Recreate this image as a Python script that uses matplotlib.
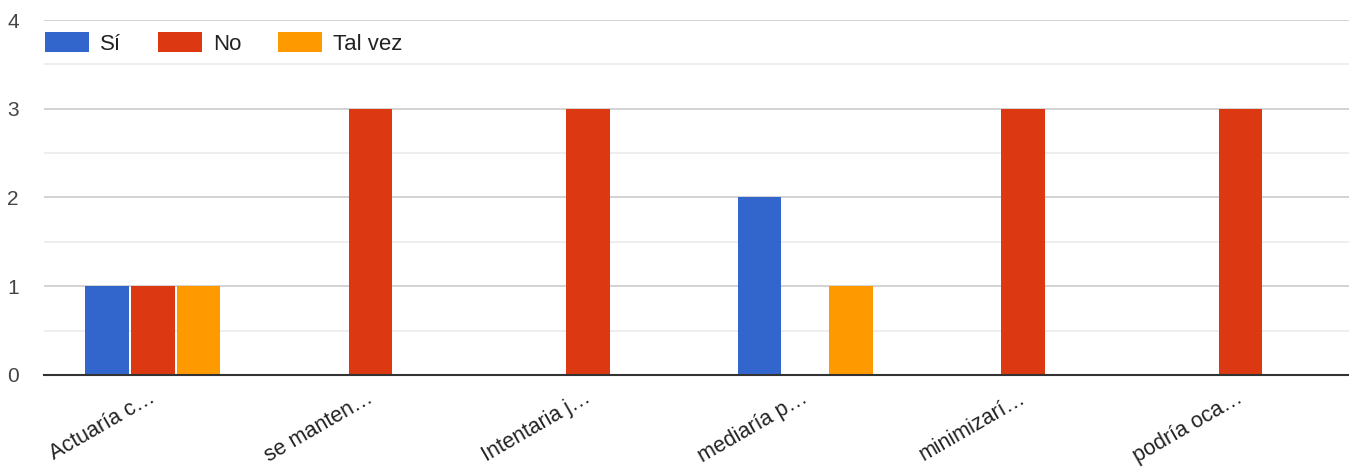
import matplotlib
matplotlib.use("Agg")
import matplotlib.pyplot as plt
import matplotlib.transforms as mtransforms
import numpy as np

categories = ["Actuaría c…", "se manten…", "Intentaria j…", "mediaría p…", "minimizarí…", "podría oca…"]
series_names = ["Sí", "No", "Tal vez"]
si = [1, 0, 0, 2, 0, 0]
no = [1, 3, 3, 0, 3, 3]
talvez = [1, 0, 0, 1, 0, 0]
colors = ["#3366cc", "#dc3912", "#ff9900"]
y_ticks = [0, 1, 2, 3, 4]

plt.rcParams['font.family'] = ['Liberation Sans', 'DejaVu Sans']

fig = plt.figure(figsize=(13.49, 4.69), dpi=100)
ax = fig.add_axes([44/1349, 1-375/469, 1-44/1349, (375-20)/469])

x = np.arange(len(categories))
width = 0.2
step = 0.211
for i, (vals, name, c) in enumerate(zip([si, no, talvez], series_names, colors)):
    ax.bar(x + (i-1)*step, vals, width, color=c, label=name, zorder=3)

ax.set_xlim(-0.5, len(categories)-0.5)
ax.set_ylim(0, 4)
ax.set_yticks(y_ticks)
ax.set_yticks([0.5, 1.5, 2.5, 3.5], minor=True)
ax.yaxis.grid(True, which='major', color='#cccccc', linewidth=1.2, zorder=0)
ax.yaxis.grid(True, which='minor', color='#ebebeb', linewidth=1.2, zorder=0)
ax.tick_params(axis='y', which='both', length=0, labelsize=15, labelcolor='#444444', pad=18)
ax.tick_params(axis='x', length=0, labelsize=15.5, labelcolor='#222222', pad=9)
ax.set_xticks(x)
ax.set_xticklabels(categories, rotation=30, ha='right', rotation_mode='anchor')
offset = mtransforms.ScaledTranslation(-4/100, 0, fig.dpi_scale_trans)
for lab in ax.get_xticklabels():
    lab.set_transform(lab.get_transform() + offset)
for s in ['top', 'right', 'left']:
    ax.spines[s].set_visible(False)
ax.spines['bottom'].set_color('#333333')
ax.spines['bottom'].set_linewidth(1.5)
ax.spines['bottom'].set_zorder(4)

leg = ax.legend(loc='upper left', bbox_to_anchor=(0.0008, 0.965), ncol=3, frameon=False,
                fontsize=16, handlelength=1.98, handleheight=0.95, columnspacing=1.65,
                handletextpad=0.5, borderaxespad=0, borderpad=0)
for t in leg.get_texts():
    t.set_color('#222222')

fig.savefig("out.png", dpi=100)
